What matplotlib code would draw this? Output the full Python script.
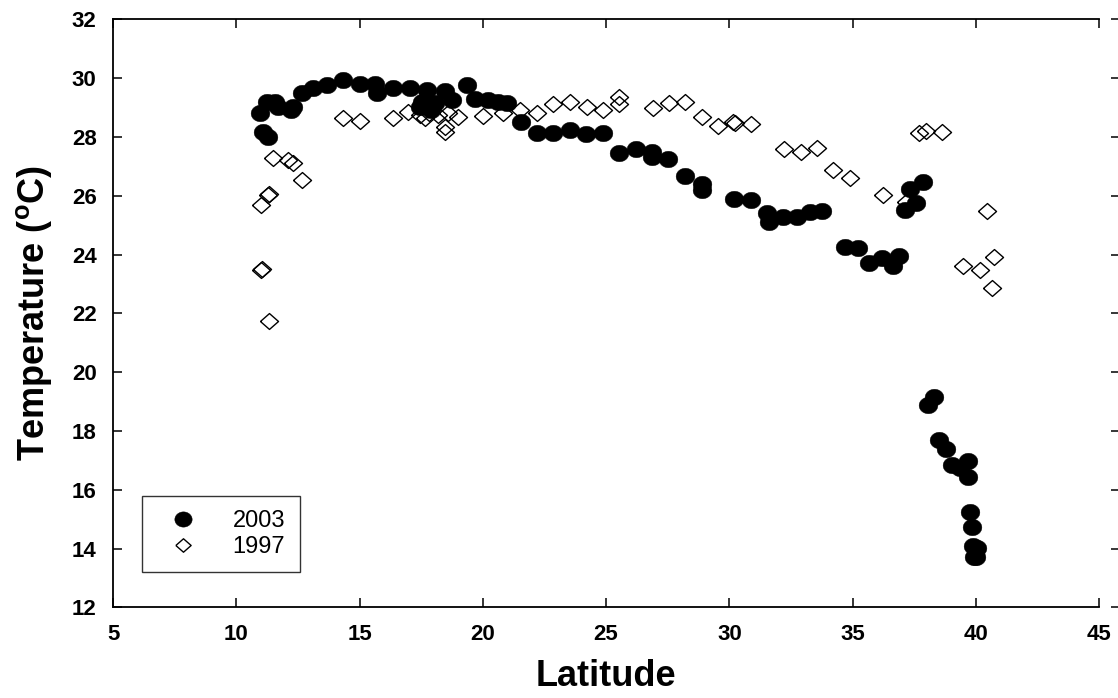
import matplotlib
matplotlib.use('Agg')
import matplotlib.pyplot as plt
import numpy as np

plt.rcParams['font.family'] = ['Liberation Sans', 'DejaVu Sans']

# 2003 survey (filled circles)
lat_2003 = [10.95, 11.23, 11.56, 11.08, 11.28, 11.68, 12.29, 12.2, 12.66, 13.10,
            13.67, 14.32, 15.01, 15.62, 15.70, 16.35, 17.04, 17.73, 18.46, 19.35,
            17.45, 17.53, 17.9, 18.05, 18.74, 19.68, 20.21, 20.62, 20.98, 21.55,
            22.18, 22.83, 23.52, 24.18, 24.87, 25.52, 26.21, 26.86, 26.86, 27.51,
            28.19, 28.88, 28.88, 30.18, 30.87, 31.52, 31.6, 32.17, 32.74, 33.27,
            33.75, 34.69, 35.22, 35.67, 36.19, 36.63, 36.88, 37.12, 37.32, 37.59,
            37.85, 38.06, 38.31, 38.51, 38.78, 39.02, 39.35, 39.67, 39.67, 39.75,
            39.83, 39.88, 40.04, 39.92, 40.0]
temp_2003 = [28.8, 29.2, 29.2, 28.15, 28.0, 29.0, 29.0, 28.9, 29.5, 29.65,
             29.75, 29.95, 29.8, 29.8, 29.5, 29.65, 29.65, 29.6, 29.55, 29.75,
             29.0, 29.2, 28.9, 29.15, 29.25, 29.3, 29.25, 29.2, 29.15, 28.5,
             28.13, 28.13, 28.23, 28.1, 28.13, 27.45, 27.59, 27.5, 27.32, 27.25,
             26.67, 26.4, 26.2, 25.89, 25.86, 25.42, 25.1, 25.27, 25.27, 25.45,
             25.48, 24.25, 24.22, 23.72, 23.88, 23.61, 23.95, 25.52, 26.23, 25.75,
             26.46, 18.88, 19.15, 17.69, 17.38, 16.84, 16.74, 16.98, 16.43, 15.24,
             14.73, 14.09, 14.02, 13.7, 13.7]

# 1997 survey (open diamonds)
lat_1997 = [10.99, 11.28, 11.32, 10.99, 11.02, 11.32, 11.48, 12.09, 12.29, 12.66,
            14.32, 15.01, 16.35, 16.96, 17.45, 17.65, 17.8, 18.18, 18.59, 19.0,
            18.46, 18.46, 20.0, 20.81, 21.5, 22.18, 22.83, 23.52, 24.22, 24.87,
            25.52, 25.52, 26.90, 27.54, 28.19, 28.88, 29.53, 30.14, 30.22, 30.87,
            32.21, 32.90, 33.55, 34.19, 34.88, 36.22, 37.15, 37.68, 38.0, 38.62,
            39.47, 40.16, 40.44, 40.73, 40.65]
temp_1997 = [25.69, 26.02, 26.05, 23.48, 23.5, 21.74, 27.28, 27.22, 27.11, 26.53,
             28.64, 28.54, 28.64, 28.84, 28.74, 28.64, 28.8, 28.74, 28.81, 28.67,
             28.33, 28.16, 28.7, 28.81, 28.9, 28.8, 29.12, 29.19, 29.02, 28.92,
             29.36, 29.12, 28.98, 29.15, 29.19, 28.68, 28.37, 28.51, 28.47, 28.44,
             27.59, 27.49, 27.62, 26.87, 26.60, 26.02, 25.8, 28.13, 28.2, 28.17,
             23.60, 23.48, 25.48, 23.91, 22.86]

x_ticks = [5, 10, 15, 20, 25, 30, 35, 40, 45]
y_ticks = [12, 14, 16, 18, 20, 22, 24, 26, 28, 30, 32]

# slightly flattened marker shapes, like the original plot
t = np.linspace(0, 2 * np.pi, 41)
ellipse = np.column_stack([0.5 * np.cos(t), 0.44 * np.sin(t)])
diamond = [(-1, 0), (0, 0.88), (1, 0), (0, -0.88), (-1, 0)]

fig = plt.figure(figsize=(11.18, 6.98), dpi=100)
ax = fig.add_axes([0.1013, 0.1297, 0.8817, 0.8427])

ax.plot(lat_1997, temp_1997, linestyle='none', marker=diamond, ms=13,
        mfc='none', mec='black', mew=1.0, label='1997', zorder=2)
ax.plot(lat_2003, temp_2003, linestyle='none', marker=ellipse, ms=13.5,
        mfc='black', mec='black', mew=0.3, label='2003', zorder=3)

ax.set_xlim(5, 45)
ax.set_ylim(12, 32)
ax.set_xticks(x_ticks)
ax.set_yticks(y_ticks)

for s in ax.spines.values():
    s.set_linewidth(1.3)
ax.spines['right'].set_position(('outward', 15))

ax.tick_params(direction='in', length=6.5, width=1.1, top=True, right=True,
               labelsize=16, pad=12)
for lab in ax.get_xticklabels() + ax.get_yticklabels():
    lab.set_fontweight('bold')

ax.set_xlabel('Latitude', fontsize=26, fontweight='bold')
ax.set_ylabel('Temperature ($^{\\mathregular{o}}$C)', fontsize=26, fontweight='bold')
ax.xaxis.set_label_coords(0.5, -0.088)
ax.yaxis.set_label_coords(-0.060, 0.5)

# legend: 2003 first, then 1997
h, l = ax.get_legend_handles_labels()
leg = ax.legend(h[::-1], l[::-1], loc='lower left', bbox_to_anchor=(0.029, 0.060),
                borderaxespad=0, fontsize=17, frameon=True, fancybox=False,
                edgecolor='black', handlelength=2.3, handletextpad=0.95,
                borderpad=0.6, labelspacing=0.15)
leg.get_frame().set_linewidth(1.0)
leg.legend_handles[0].set_markersize(12.5)
leg.legend_handles[1].set_markersize(11)

fig.savefig('out.png', dpi=100)
